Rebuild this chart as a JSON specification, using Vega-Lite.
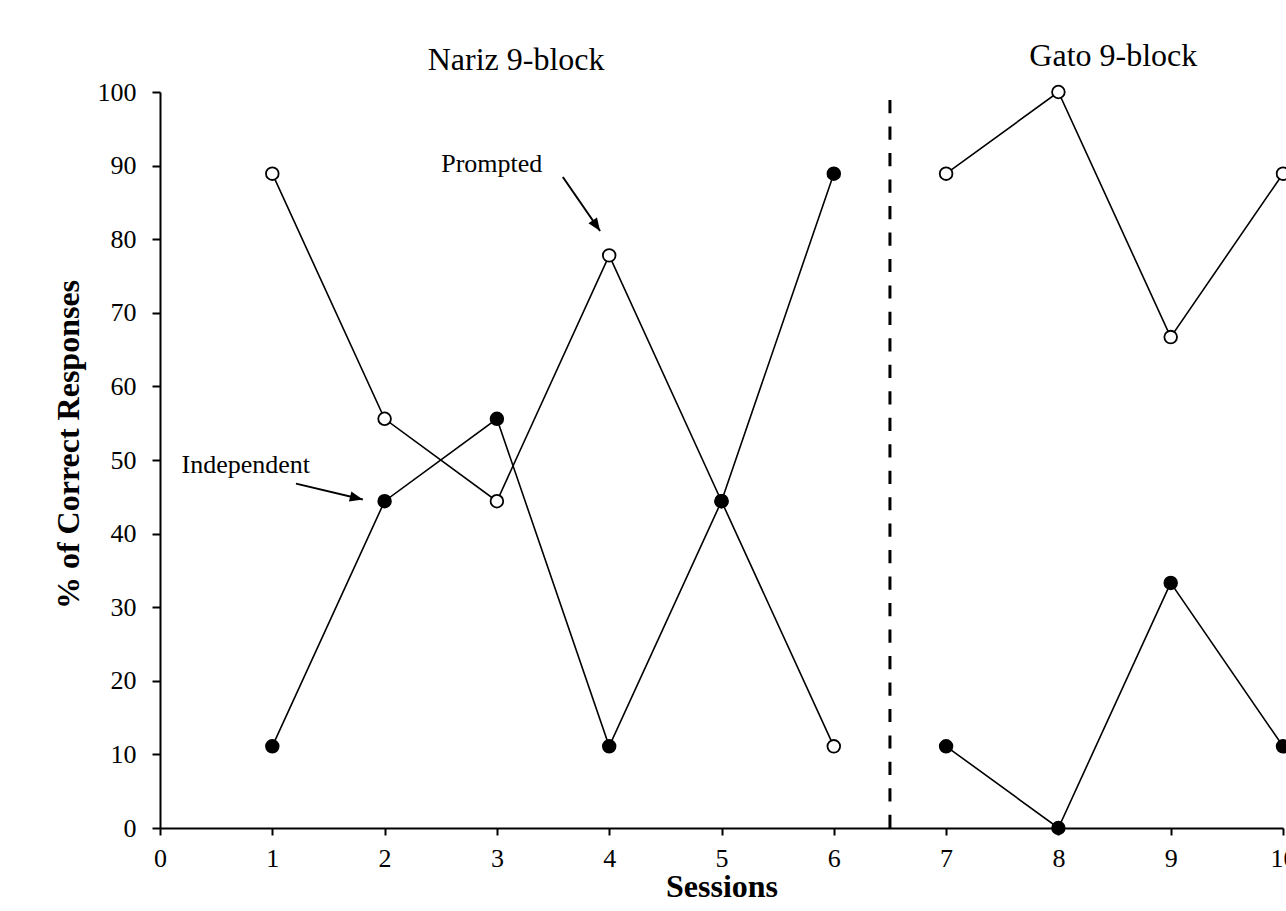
{
  "$schema": "https://vega.github.io/schema/vega-lite/v6.json",
  "autosize": "none",
  "width": 1123,
  "height": 736,
  "padding": {"left": 160, "top": 92, "right": 3, "bottom": 83},
  "background": "white",
  "config": {
    "view": {"stroke": null},
    "font": "Liberation Serif",
    "axis": {"grid": false, "domainColor": "black", "tickColor": "black", "labelColor": "black", "titleColor": "black", "labelFont": "Liberation Serif", "titleFont": "Liberation Serif", "domainWidth": 2, "tickWidth": 2}
  },
  "datasets": {
    "series": [
      {"session": 1, "pct": 88.9, "type": "Prompted", "phase": "Nariz"},
      {"session": 2, "pct": 55.6, "type": "Prompted", "phase": "Nariz"},
      {"session": 3, "pct": 44.4, "type": "Prompted", "phase": "Nariz"},
      {"session": 4, "pct": 77.8, "type": "Prompted", "phase": "Nariz"},
      {"session": 5, "pct": 44.4, "type": "Prompted", "phase": "Nariz"},
      {"session": 6, "pct": 11.1, "type": "Prompted", "phase": "Nariz"},
      {"session": 7, "pct": 88.9, "type": "Prompted", "phase": "Gato"},
      {"session": 8, "pct": 100, "type": "Prompted", "phase": "Gato"},
      {"session": 9, "pct": 66.7, "type": "Prompted", "phase": "Gato"},
      {"session": 10, "pct": 88.9, "type": "Prompted", "phase": "Gato"},
      {"session": 1, "pct": 11.1, "type": "Independent", "phase": "Nariz"},
      {"session": 2, "pct": 44.4, "type": "Independent", "phase": "Nariz"},
      {"session": 3, "pct": 55.6, "type": "Independent", "phase": "Nariz"},
      {"session": 4, "pct": 11.1, "type": "Independent", "phase": "Nariz"},
      {"session": 5, "pct": 44.4, "type": "Independent", "phase": "Nariz"},
      {"session": 6, "pct": 88.9, "type": "Independent", "phase": "Nariz"},
      {"session": 7, "pct": 11.1, "type": "Independent", "phase": "Gato"},
      {"session": 8, "pct": 0, "type": "Independent", "phase": "Gato"},
      {"session": 9, "pct": 33.3, "type": "Independent", "phase": "Gato"},
      {"session": 10, "pct": 11.1, "type": "Independent", "phase": "Gato"}
    ],
    "phaseLine": [{"x": 6.5, "y": 98.9, "y2": 0}],
    "titles": [
      {"x": 3.171, "y": 103.04, "label": "Nariz 9-block"},
      {"x": 8.489, "y": 103.53, "label": "Gato 9-block"}
    ],
    "notes": [
      {"x": 2.954, "y": 89.13, "label": "Prompted"},
      {"x": 0.764, "y": 48.29, "label": "Independent"}
    ],
    "arrows": [
      {"label": "Prompted", "x": 3.587, "y": 88.45, "x2": 3.919, "y2": 81.11},
      {"label": "Independent", "x": 1.211, "y": 46.79, "x2": 1.806, "y2": 44.62}
    ]
  },
  "layer": [
    {
      "data": {"name": "phaseLine"},
      "mark": {"type": "rule", "strokeDash": [13.2, 13.27], "strokeWidth": 3, "color": "black"},
      "encoding": {
        "x": {"field": "x", "type": "quantitative", "scale": {"domain": [0, 10]},
          "axis": {"values": [0,1,2,3,4,5,6,7,8,9,10], "format": "d", "tickSize": 7, "labelFontSize": 26, "labelPadding": 10, "title": "Sessions", "titleFontSize": 32, "titleFontWeight": "bold", "titlePadding": 0, "labelFlush": false}},
        "y": {"field": "y", "type": "quantitative", "scale": {"domain": [0, 100]},
          "axis": {"values": [0,10,20,30,40,50,60,70,80,90,100], "format": "d", "tickSize": 8, "labelFontSize": 26, "labelPadding": 16, "title": "% of Correct Responses", "titleFontSize": 32, "titleFontWeight": "bold", "titlePadding": 12, "titleY": 352}},
        "y2": {"field": "y2"}
      }
    },
    {
      "data": {"name": "series"},
      "mark": {"type": "line", "color": "black", "strokeWidth": 1.6},
      "encoding": {
        "x": {"field": "session", "type": "quantitative"},
        "y": {"field": "pct", "type": "quantitative"},
        "detail": [{"field": "type"}, {"field": "phase"}]
      }
    },
    {
      "data": {"name": "series"},
      "mark": {"type": "point", "shape": "circle", "size": 160, "stroke": "black", "strokeWidth": 1.8, "opacity": 1, "filled": false},
      "encoding": {
        "x": {"field": "session", "type": "quantitative"},
        "y": {"field": "pct", "type": "quantitative"},
        "fill": {"field": "type", "type": "nominal", "scale": {"domain": ["Prompted", "Independent"], "range": ["white", "black"]}, "legend": null}
      }
    },
    {
      "data": {"name": "titles"},
      "mark": {"type": "text", "fontSize": 32, "align": "center", "baseline": "alphabetic", "color": "black"},
      "encoding": {
        "x": {"field": "x", "type": "quantitative"},
        "y": {"field": "y", "type": "quantitative"},
        "text": {"field": "label"}
      }
    },
    {
      "data": {"name": "notes"},
      "mark": {"type": "text", "fontSize": 26, "align": "center", "baseline": "alphabetic", "color": "black"},
      "encoding": {
        "x": {"field": "x", "type": "quantitative"},
        "y": {"field": "y", "type": "quantitative"},
        "text": {"field": "label"}
      }
    },
    {
      "data": {"name": "arrows"},
      "mark": {"type": "rule", "color": "black", "strokeWidth": 2},
      "encoding": {
        "x": {"field": "x", "type": "quantitative"},
        "y": {"field": "y", "type": "quantitative"},
        "x2": {"field": "x2"},
        "y2": {"field": "y2"}
      }
    },
    {
      "data": {"name": "arrows"},
      "transform": [{"filter": "datum.label === 'Prompted'"}],
      "mark": {"type": "point", "shape": "M0,0 L0.4,1 L-0.4,1 Z", "size": 676, "filled": true, "color": "black", "opacity": 1, "angle": 145.4},
      "encoding": {
        "x": {"field": "x2", "type": "quantitative"},
        "y": {"field": "y2", "type": "quantitative"}
      }
    },
    {
      "data": {"name": "arrows"},
      "transform": [{"filter": "datum.label === 'Independent'"}],
      "mark": {"type": "point", "shape": "M0,0 L0.4,1 L-0.4,1 Z", "size": 676, "filled": true, "color": "black", "opacity": 1, "angle": 103.5},
      "encoding": {
        "x": {"field": "x2", "type": "quantitative"},
        "y": {"field": "y2", "type": "quantitative"}
      }
    }
  ]
}
